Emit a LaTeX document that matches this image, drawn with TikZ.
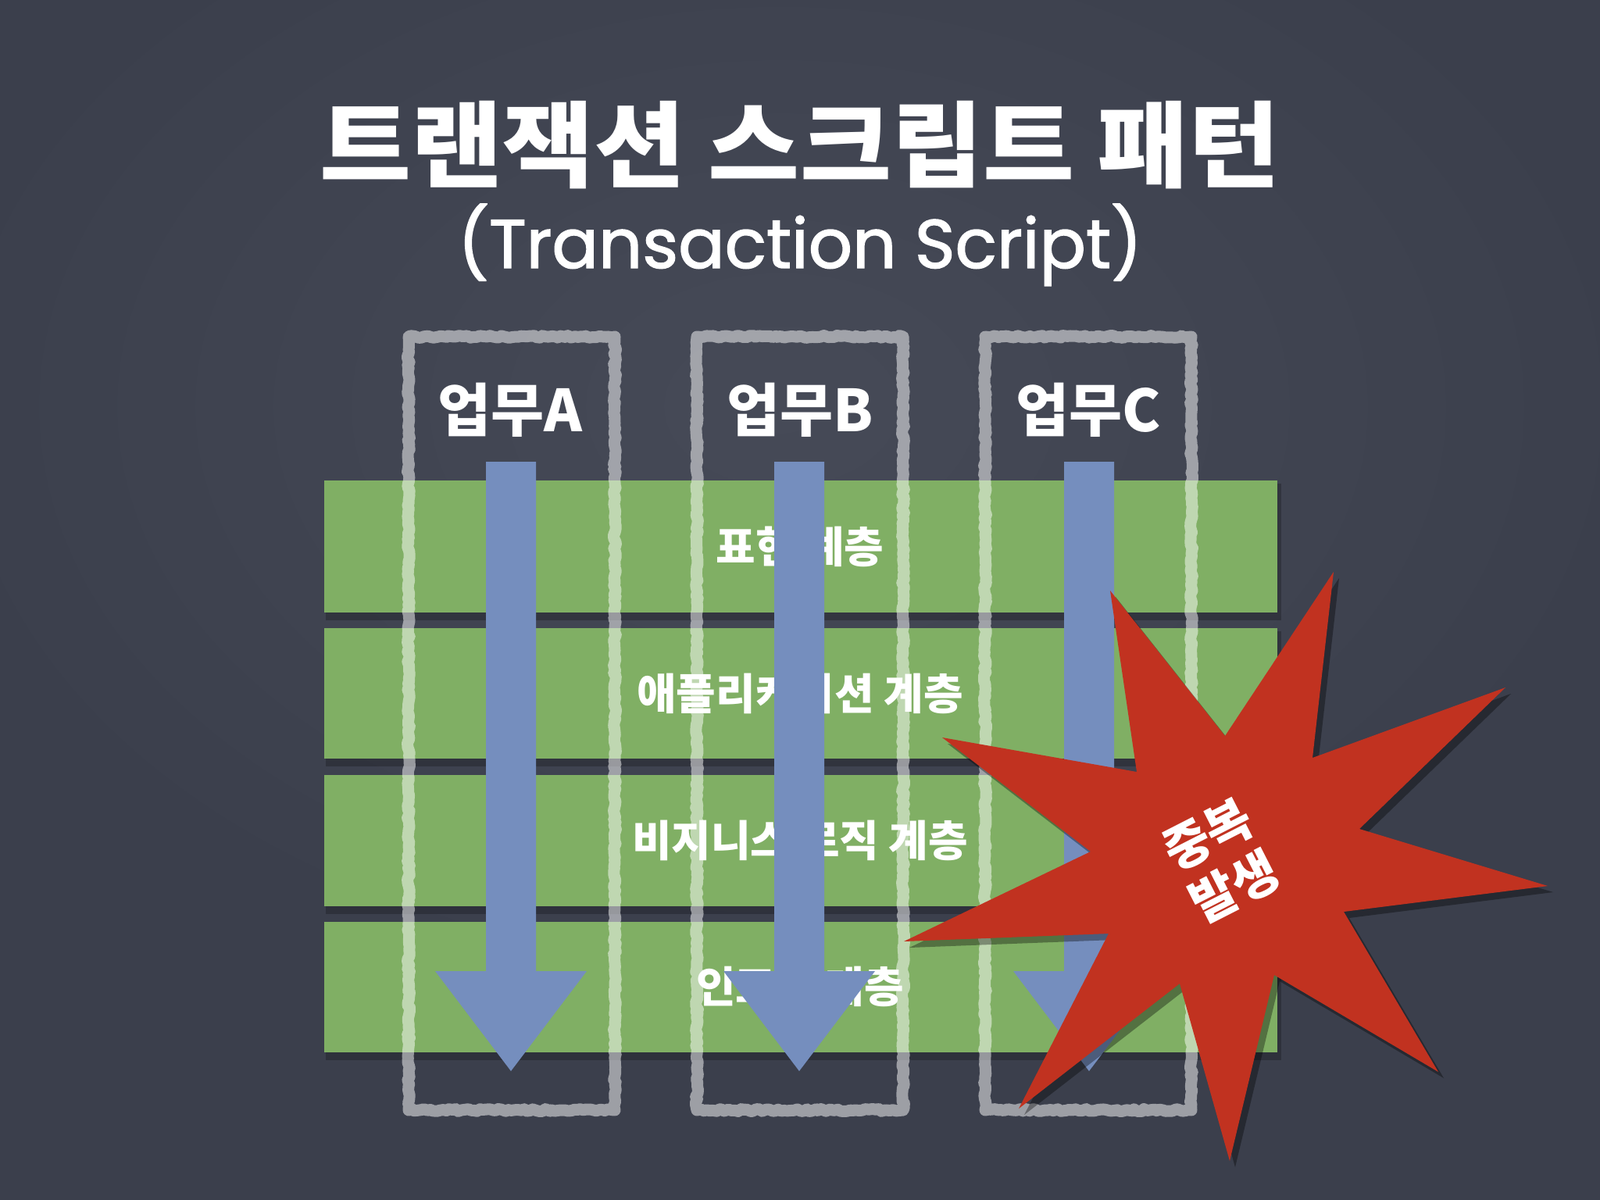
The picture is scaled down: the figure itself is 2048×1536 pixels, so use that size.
\documentclass[tikz,border=0pt]{standalone}
\usepackage{fontspec}
\newfontfamily\kr{Noto Sans CJK KR}
\newfontfamily\latinf{Poppins}[FakeBold=1.6]
\usetikzlibrary{decorations.pathmorphing}
\definecolor{board}{RGB}{59,63,76}
\definecolor{boardlight}{RGB}{70,74,87}
\definecolor{layergreen}{RGB}{128,175,100}
\definecolor{flowblue}{RGB}{117,142,190}
\definecolor{starred}{RGB}{193,50,32}
\tikzset{
  layerband/.style={fill=layergreen},
  bandshadow/.style={fill=black,opacity=0.22},
  chalkbox/.style={draw=white,draw opacity=0.5,line width=15pt,line join=round,
    decorate,decoration={random steps,segment length=4pt,amplitude=1.5pt}},
  flowarrow/.style={fill=flowblue},
  titletext/.style={text=white,font=\kr\bfseries\fontsize{120}{128}\selectfont,inner sep=0pt,xscale=1.06},
  subtitletext/.style={text=white,font=\latinf\fontsize{88}{96}\selectfont,inner sep=0pt},
  tasklabel/.style={text=white,font=\kr\bfseries\fontsize{74}{80}\selectfont,inner sep=0pt},
  layerlabel/.style={text=white,font=\kr\bfseries\fontsize{55}{60}\selectfont,inner sep=0pt},
  startext/.style={text=white,font=\kr\bfseries\fontsize{64}{75}\selectfont,inner sep=0pt,align=center,rotate=27}
}
\begin{document}
\begin{tikzpicture}[x=1pt,y=-1pt]
\useasboundingbox (0,0) rectangle (2048,1536);
\fill[board] (0,0) rectangle (2048,1536);
\shade[inner color=boardlight,outer color=board] (1000,520) ellipse [x radius=1100,y radius=750];

% layer bands
\foreach \t/\b in {615/784,804/971,992/1160,1180/1347}{
  \fill[bandshadow] (417,\t+4) rectangle (1640,\b+10);
  \fill[layerband] (415,\t) rectangle (1635,\b);
}

% chalk boxes
\foreach \c in {655,1024,1393}{
  \draw[chalkbox] (\c-132,431) rectangle (\c+132,1421);
}

% titles
\node[titletext] (title) at (1024,186) {트랜잭션 스크립트 패턴};
\node[subtitletext,anchor=base] (subtitle) at (1024,343) {(Transaction Script)};

% task labels
\node[tasklabel] (taskA) at (653,525) {업무A};
\node[tasklabel] (taskB) at (1024,525) {업무B};
\node[tasklabel] (taskC) at (1393,525) {업무C};

% layer labels
\node[layerlabel] (pres) at (1024,700) {표현 계층};
\node[layerlabel] (app) at (1024,888) {애플리케이션 계층};
\node[layerlabel] (biz) at (1024,1076) {비지니스 로직 계층};
\node[layerlabel] (inf) at (1024,1263) {인프라 계층};

% flow arrows
\foreach \c in {654,1023,1394}{
  \fill[flowarrow] (\c-32,591) -- (\c+32,591) -- (\c+32,1243) -- (\c+97,1243)
    -- (\c,1371) -- (\c-97,1243) -- (\c-32,1243) -- cycle;
}

% star
\fill[black,opacity=0.35,shift={(7,8)}] (1421,756) -- (1568,942) -- (1707,732) -- (1680,970) -- (1927,880) -- (1740,1061)
  -- (1981,1134) -- (1720,1167) -- (1841,1372) -- (1631,1248) -- (1574,1486) -- (1510,1259)
  -- (1304,1419) -- (1419,1195) -- (1157,1205) -- (1396,1090) -- (1206,944) -- (1455,988) -- cycle;
\fill[starred] (1421,756) -- (1568,942) -- (1707,732) -- (1680,970) -- (1927,880) -- (1740,1061)
  -- (1981,1134) -- (1720,1167) -- (1841,1372) -- (1631,1248) -- (1574,1486) -- (1510,1259)
  -- (1304,1419) -- (1419,1195) -- (1157,1205) -- (1396,1090) -- (1206,944) -- (1455,988) -- cycle;
\node[startext] (dup) at (1563,1102) {중복\\발생};
\end{tikzpicture}
\end{document}
